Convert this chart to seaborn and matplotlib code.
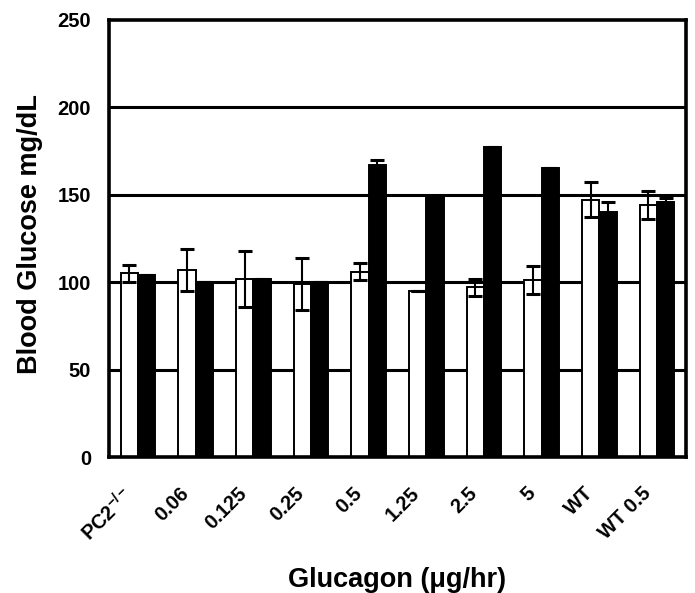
import numpy as np
import pandas as pd
import matplotlib
matplotlib.use("Agg")
import matplotlib.pyplot as plt
import seaborn as sns

# data
doses = ["PC2$^{-/-}$", "0.06", "0.125", "0.25", "0.5", "1.25", "2.5", "5", "WT", "WT 0.5"]
white_mean = [105, 107, 102, 99, 106, 95, 97, 101, 147, 144]
white_err = [5, 12, 16, 15, 5, 0, 5, 8, 10, 8]
black_mean = [104, 100, 102, 100, 167, 149, 177, 165, 140, 146]
black_err = [0, 0, 0, 0, 3, 0, 0, 0, 6, 2]

df = pd.DataFrame({
    "dose": doses * 2,
    "glucose": white_mean + black_mean,
    "group": ["a"] * len(doses) + ["b"] * len(doses),
})

sns.set_style("white")
plt.rcParams["font.family"] = ["Liberation Sans", "DejaVu Sans"]
plt.rcParams["font.weight"] = "bold"
plt.rcParams["text.color"] = "black"
plt.rcParams["axes.labelcolor"] = "black"
plt.rcParams["xtick.color"] = "black"
plt.rcParams["ytick.color"] = "black"
plt.rcParams["mathtext.fontset"] = "custom"
plt.rcParams["mathtext.rm"] = "Liberation Sans:bold"
plt.rcParams["mathtext.it"] = "Liberation Sans:bold"
plt.rcParams["mathtext.bf"] = "Liberation Sans:bold"

fig = plt.figure(figsize=(6.95, 5.93), dpi=100)
ax = fig.add_axes([0.157, 0.229, 0.830, 0.738])

for y in [50, 100, 150, 200]:
    ax.axhline(y, color="black", lw=2.2, zorder=0)

sns.barplot(data=df, x="dose", y="glucose", hue="group", order=doses,
            palette={"a": "white", "b": "black"}, width=0.6, errorbar=None,
            edgecolor="black", linewidth=1.4, legend=False, ax=ax, zorder=2)

for cont, m, e in zip(ax.containers, [white_mean, black_mean], [white_err, black_err]):
    xs = [b.get_x() + b.get_width() / 2 for b in cont]
    ax.errorbar(xs, m, yerr=e, fmt="none", ecolor="black", elinewidth=1.5,
                capsize=5, capthick=2.2, zorder=3)

ax.set_xlim(-0.5, len(doses) - 0.5)
ax.set_ylim(0, 250)
ax.set_yticks([0, 50, 100, 150, 200, 250])
# labels sit a little left of the group centre in the original
ax.set_xticks(np.arange(len(doses)) - 0.28)
ax.set_xticklabels(doses, rotation=45, ha="right", rotation_mode="anchor",
                   fontsize=14.5, fontweight="bold")
ax.set_xticks(np.arange(-0.5, len(doses)), minor=True)
ax.tick_params(axis="x", which="major", length=0, pad=19)
ax.tick_params(axis="x", which="minor", length=5, width=2.2, direction="out")
ax.tick_params(axis="y", length=5, width=2.2, direction="out", labelsize=14.5, pad=8)
for lab in ax.get_yticklabels():
    lab.set_fontweight("bold")

for s in ax.spines.values():
    s.set_visible(True)
    s.set_linewidth(2.6)
    s.set_color("black")

ax.set_xlabel("Glucagon (\u03bcg/hr)", fontsize=19.5, fontweight="bold")
ax.set_ylabel("Blood Glucose mg/dL", fontsize=19.5, fontweight="bold")
ax.xaxis.set_label_coords(0.5, -0.28)
ax.xaxis.label.set_va("center")
ax.yaxis.set_label_coords(-0.138, 0.51)
ax.yaxis.label.set_va("center")

fig.savefig("out.png", dpi=100)
